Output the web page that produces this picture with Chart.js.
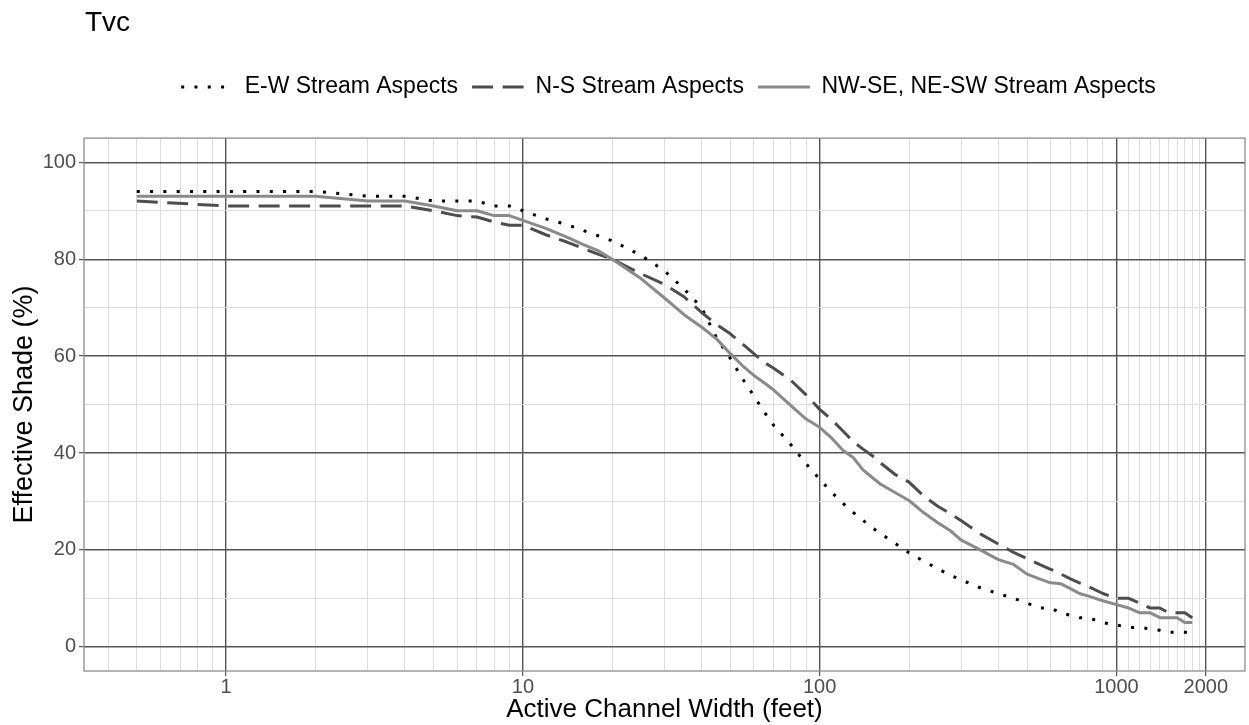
<!DOCTYPE html>
<html>
<head>
<meta charset="utf-8">
<script src="https://cdn.jsdelivr.net/npm/chart.js@4.4.1/dist/chart.umd.min.js"></script>
<style>
  html, body { margin: 0; padding: 0; background: #ffffff; }
  #wrap { width: 1249px; height: 725px; position: relative; }
</style>
</head>
<body>
<div id="wrap"><canvas id="c"></canvas></div>
<script>
// ---- data ----
const widths = [0.5, 1, 2, 3, 4, 5, 6, 7, 8, 9, 10, 12, 14, 16, 18, 20, 25, 30, 35, 40, 45, 50, 55, 60, 65, 70, 80, 90, 100, 110, 120, 130, 140, 150, 160, 180, 200, 225, 250, 275, 300, 350, 400, 450, 500, 550, 600, 650, 700, 750, 800, 900, 1000, 1100, 1200, 1300, 1400, 1500, 1600, 1700, 1800];
const shadeEW = [94, 94, 94, 93, 93, 92, 92, 92, 91, 91, 90, 88.3, 87.2, 85.9, 84.8, 83.8, 80.8, 77.6, 73.8, 70, 63.7, 59.5, 55.3, 51.8, 48.5, 45.7, 41.7, 37.8, 34.6, 31.8, 29.6, 27.7, 26.1, 24.6, 23.4, 21.3, 19.4, 17.6, 16.1, 14.8, 13.8, 12.1, 11, 10, 9, 8, 8, 7, 6.5, 6, 6, 5, 4.5, 4, 4, 3.7, 3.4, 3, 3, 3, 3];
const shadeNS = [92, 91, 91, 91, 91, 90, 89, 88.7, 87.7, 87, 87, 85, 83.6, 82.2, 81, 80, 77, 74.8, 72.2, 69, 66.5, 64.6, 62.5, 60.5, 58.7, 57.5, 55, 52, 49, 46.8, 44.5, 42.3, 40.8, 39.5, 38, 35.5, 34, 31, 29, 27.5, 26, 23.2, 21.2, 19.5, 18.2, 17, 16, 15, 14, 13.2, 12.5, 11, 10, 10, 9, 8, 8, 7, 7, 7, 6];
const shadeDiag = [93, 93, 93, 92, 92, 91, 90, 90, 89, 89, 88, 86.3, 84.6, 83, 81.7, 80, 76, 72, 68.5, 66, 63.5, 60.5, 58, 56, 54.5, 53, 49.8, 47, 45.3, 43, 40.5, 39, 36.5, 35, 33.6, 31.8, 30.2, 27.6, 25.6, 24, 22, 19.9, 18, 17, 15, 14, 13.2, 13, 12, 11, 10.5, 9.5, 8.7, 8, 7, 7, 6, 6, 6, 5, 5];
const seriesNames = ['E-W Stream Aspects', 'N-S Stream Aspects', 'NW-SE, NE-SW Stream Aspects'];
const xMajorTicks = [1, 10, 100, 1000, 2000];
const xMinorTicks = [0.4, 0.5, 0.6, 0.7, 0.8, 0.9, 2, 3, 4, 5, 6, 7, 8, 9, 20, 30, 40, 50, 60, 70, 80, 90, 200, 300, 400, 500, 600, 700, 800, 900, 1100, 1200, 1300, 1400, 1500, 1600, 1700, 1800, 1900];
const yTicks = [0, 10, 20, 30, 40, 50, 60, 70, 80, 90, 100];
const yLabelled = [0, 20, 40, 60, 80, 100];

const FONT = "'Liberation Sans', Arial, Helvetica, sans-serif";

function pts(ys) { return widths.map((w, i) => ({ x: w, y: ys[i] })); }

// log-axis range with 5% expansion like the original
const lmin = Math.log10(widths[0]), lmax = Math.log10(widths[widths.length - 1]);
const lpad = (lmax - lmin) * 0.05;

const styles = [
  { color: '#000000', dash: [3, 10.3], width: 3, order: 3 },
  { color: '#4d4d4d', dash: [21, 9.5], width: 3, order: 2 },
  { color: '#8a8a8a', dash: [], width: 3, order: 1 }
];
const seriesData = [shadeEW, shadeNS, shadeDiag];

const datasets = seriesNames.map((name, i) => ({
  label: name,
  data: pts(seriesData[i]),
  borderColor: styles[i].color,
  backgroundColor: styles[i].color,
  borderWidth: styles[i].width,
  borderDash: styles[i].dash,
  borderCapStyle: 'butt',
  borderJoinStyle: 'round',
  pointRadius: 0,
  pointHoverRadius: 0,
  tension: 0,
  fill: false,
  order: styles[i].order
}));

const helper = {
  id: 'helper',
  beforeUpdate(chart) {
    const lg = chart.legend;
    if (lg && !lg._patched) {
      const orig = lg.fit;
      lg.fit = function () { orig.call(this); this.height += 29.5; };
      lg._patched = true;
    }
  },
  afterLayout(chart) {
    const a = chart.chartArea;
    if (chart.legend) { chart.legend.left = a.left + 4; chart.legend.right = a.right + 4; chart.legend.width = a.right - a.left; }
    if (chart.titleBlock) { chart.titleBlock.left = a.left + 1; chart.titleBlock.right = a.right; chart.titleBlock.width = a.right - a.left - 1; }
  },
  afterDatasetsDraw(chart) {
    const a = chart.chartArea, ctx = chart.ctx;
    ctx.save();
    ctx.strokeStyle = '#8c8c8c';
    ctx.lineWidth = 1.3;
    ctx.setLineDash([]);
    ctx.strokeRect(a.left, a.top, a.right - a.left, a.bottom - a.top);
    ctx.restore();
  }
};

new Chart(document.getElementById('c'), {
  type: 'line',
  data: { datasets },
  plugins: [helper],
  options: {
    responsive: true,
    maintainAspectRatio: false,
    animation: false,
    devicePixelRatio: 1,
    layout: { padding: { left: 0, right: 4, top: 0, bottom: 0 } },
    plugins: {
      tooltip: { enabled: false },
      title: {
        display: true, text: 'Tvc', align: 'start', color: '#000000',
        font: { family: FONT, size: 28, weight: 'normal' },
        padding: { top: 6, bottom: 22 }
      },
      legend: {
        display: true, position: 'top', align: 'center',
        labels: {
          color: '#000000',
          font: { family: FONT, size: 23 },
          usePointStyle: true,
          pointStyleWidth: 52,
          boxWidth: 52,
          padding: 14,
          generateLabels: () => seriesNames.map((n, i) => ({
            text: n, fillStyle: styles[i].color, strokeStyle: styles[i].color,
            lineWidth: styles[i].width, lineDash: styles[i].dash, lineCap: 'butt',
            pointStyle: 'line', hidden: false, datasetIndex: i, fontColor: '#000000'
          }))
        }
      }
    },
    scales: {
      x: {
        type: 'logarithmic',
        bounds: 'data',
        min: Math.pow(10, lmin - lpad),
        max: Math.pow(10, lmax + lpad),
        afterBuildTicks: (s) => {
          s.ticks = xMinorTicks.concat(xMajorTicks).sort((a, b) => a - b).map(v => ({ value: v }));
        },
        afterFit: (s) => { s.height = 54; },
        border: { display: false },
        grid: {
          color: (c) => xMajorTicks.includes(c.tick.value) ? '#555555' : '#dedede',
          lineWidth: (c) => xMajorTicks.includes(c.tick.value) ? 1.4 : 1,
          tickColor: (c) => xMajorTicks.includes(c.tick.value) ? '#333333' : 'rgba(0,0,0,0)',
          tickLength: 5, tickWidth: 1
        },
        ticks: {
          autoSkip: false, maxRotation: 0, minRotation: 0, padding: -1,
          color: '#4d4d4d', font: { family: FONT, size: 20 },
          callback: (v) => xMajorTicks.includes(v) ? String(v) : ''
        },
        title: {
          display: true, text: 'Active Channel Width (feet)', color: '#000000',
          font: { family: FONT, size: 26 }, padding: { top: 0, bottom: 0 }
        }
      },
      y: {
        type: 'linear', min: -5, max: 105,
        afterBuildTicks: (s) => { s.ticks = yTicks.map(v => ({ value: v })); },
        afterFit: (s) => { s.width = 84; },
        border: { display: false },
        grid: {
          color: (c) => yLabelled.includes(c.tick.value) ? '#555555' : '#dedede',
          lineWidth: (c) => yLabelled.includes(c.tick.value) ? 1.4 : 1,
          tickColor: (c) => yLabelled.includes(c.tick.value) ? '#333333' : 'rgba(0,0,0,0)',
          tickLength: 5, tickWidth: 1
        },
        ticks: {
          autoSkip: false, padding: 3,
          color: '#4d4d4d', font: { family: FONT, size: 20 },
          callback: (v) => yLabelled.includes(v) ? String(v) : ''
        },
        title: {
          display: true, text: 'Effective Shade (%)', color: '#000000',
          font: { family: FONT, size: 27 }, padding: { top: 8, bottom: 0 }
        }
      }
    }
  }
});
</script>
</body>
</html>
